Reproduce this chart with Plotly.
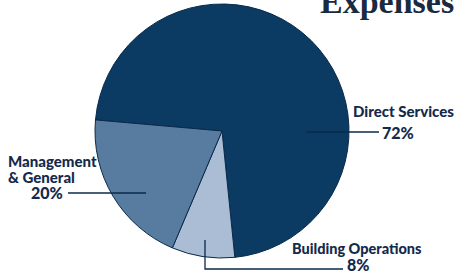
import plotly.graph_objects as go

categories = ["Direct Services", "Building Operations", "Management<br>& General"]
values = [72, 8, 20]
label_pcts = ["72%", "8%", "20%"]
colors = ["#0b3a62", "#aabdd4", "#587ca0"]

W, H = 467, 272
def px(x): return x / W
def py(y): return 1 - y / H

fig = go.Figure()
fig.add_trace(go.Pie(
    labels=categories, values=values, sort=False, direction="clockwise",
    rotation=275, textinfo="none", hoverinfo="label+percent",
    marker=dict(colors=colors, line=dict(color="#0a2a4a", width=1)),
    domain=dict(x=[px(95), px(349)], y=[py(258), py(4)]),
    showlegend=False,
))

navy = "#14294b"
lab_font = dict(family="Lato, Open Sans, sans-serif", size=15, color=navy, weight=900)
pct_font = dict(lab_font, size=16)
mgmt_lines = categories[2].split("<br>")
ann = []
ann.append(dict(x=px(456), y=py(2), xref="paper", yref="paper", xanchor="right", yanchor="middle",
                text="<b>Expenses</b>", showarrow=False,
                font=dict(family="Liberation Serif, serif", size=34, color="#1a2a40")))
ann.append(dict(x=px(456), y=py(111), xref="paper", yref="paper", xanchor="right", yanchor="middle",
                text=categories[0], showarrow=False, font=lab_font))
ann.append(dict(x=px(380), y=py(132), xref="paper", yref="paper", xanchor="left", yanchor="middle",
                text=label_pcts[0], showarrow=False, font=pct_font))
ann.append(dict(x=px(6), y=py(161), xref="paper", yref="paper", xanchor="left", yanchor="middle",
                text=mgmt_lines[0], showarrow=False, font=lab_font))
ann.append(dict(x=px(6), y=py(177), xref="paper", yref="paper", xanchor="left", yanchor="middle",
                text=mgmt_lines[1], showarrow=False, font=lab_font))
ann.append(dict(x=px(65), y=py(192), xref="paper", yref="paper", xanchor="right", yanchor="middle",
                text=label_pcts[2], showarrow=False, font=pct_font))
ann.append(dict(x=px(424), y=py(248), xref="paper", yref="paper", xanchor="right", yanchor="middle",
                text=categories[1], showarrow=False, font=dict(lab_font, size=14.5)))
ann.append(dict(x=px(345), y=py(264), xref="paper", yref="paper", xanchor="left", yanchor="middle",
                text=label_pcts[1], showarrow=False, font=pct_font))

line = dict(color="#0a2a4a", width=1.3)
shapes = [
    dict(type="line", xref="paper", yref="paper", x0=px(307), y0=py(132), x1=px(379), y1=py(132), line=line),
    dict(type="line", xref="paper", yref="paper", x0=px(68), y0=py(193), x1=px(146), y1=py(193), line=line),
    dict(type="path", xref="paper", yref="paper",
         path=f"M {px(205)} {py(240)} L {px(205)} {py(269)} L {px(343)} {py(269)}", line=line),
]

fig.update_layout(width=W, height=H, margin=dict(l=0, r=0, t=0, b=0),
                  paper_bgcolor="white", plot_bgcolor="white",
                  annotations=ann, shapes=shapes)
fig.write_html("out.html", config={"displayModeBar": False},
               post_script="document.body.style.margin='0px';")
